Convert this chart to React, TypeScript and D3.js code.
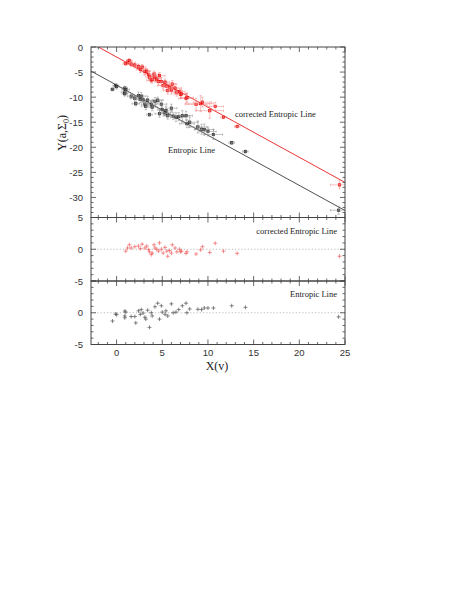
import React from "react";
import * as d3 from "d3";

// Residuals about each line: [X(v), residual]
const redX = [1.0, 1.2, 1.4, 1.6, 2.0, 2.4, 2.6, 2.8, 3.1, 3.3, 3.5, 3.6, 3.8, 3.9, 4.1, 4.2, 4.4, 4.6, 4.7, 4.9, 5.1, 5.3, 5.5, 5.6, 5.8, 6.0, 6.1, 6.4, 6.6, 6.9, 7.0, 7.1, 7.6, 7.7, 8.7, 9.2, 9.4, 10.2, 10.8, 11.7, 13.2, 24.4];
const redR = [-0.3, 0.2, 0.7, 0.2, 0.4, 0.5, 0.1, 0.8, 0.2, 0.5, -0.05, -0.4, -0.85, -0.6, 0.7, 0.2, 0.0, -0.3, 1.0, 0.0, -0.6, 0.3, -0.3, -1.1, -0.2, -0.6, 0.7, 0.2, -0.4, 0.0, -0.4, -0.3, -0.65, -0.4, -0.75, -0.1, 0.4, -0.5, 0.95, -0.3, -0.65, -1.1];
const redXErr = [0.3, 0.4, 0.3, 0.4, 0.4, 0.5, 0.4, 0.4, 0.5, 0.4, 0.5, 0.4, 0.5, 0.4, 0.5, 0.6, 0.5, 0.4, 0.6, 0.5, 0.6, 0.5, 0.6, 0.5, 0.6, 0.6, 0.5, 0.7, 0.6, 0.6, 0.7, 0.6, 0.8, 0.7, 1.2, 1.4, 1.0, 1.5, 0.9, 0.3, 0.3, 1.0];
const redYErr = [0.4, 0.5, 0.4, 0.5, 0.6, 0.5, 0.6, 0.5, 0.6, 0.5, 0.7, 0.6, 0.5, 0.7, 0.6, 0.8, 0.6, 0.7, 0.6, 0.8, 0.7, 0.6, 0.8, 0.7, 0.6, 0.8, 0.7, 0.9, 0.8, 0.7, 0.9, 0.8, 1.0, 0.9, 1.2, 1.6, 1.0, 1.5, 0.8, 0.3, 0.3, 0.8];

const blackX = [-0.45, -0.1, 0.0, 0.9, 0.9, 0.9, 1.0, 1.6, 2.0, 2.1, 2.4, 2.6, 2.7, 2.9, 3.1, 3.2, 3.4, 3.6, 3.8, 3.9, 4.2, 4.5, 4.7, 4.9, 5.0, 5.3, 5.4, 5.6, 6.0, 6.2, 6.5, 6.8, 7.2, 7.6, 7.7, 8.0, 8.9, 9.3, 9.6, 10.0, 10.6, 12.6, 14.1, 24.3];
const blackR = [-1.3, -0.2, -0.3, 0.27, -0.5, -0.8, 0.1, -0.6, -0.6, -1.6, 0.3, -0.25, 0.5, -0.05, -0.7, -1.0, 0.4, -2.3, 0.0, -0.5, 0.95, 1.5, -1.0, 1.1, 0.1, -0.25, 0.3, -0.5, 1.4, 0.0, 0.1, 0.5, 1.1, 1.5, 0.0, 0.6, 0.55, 0.5, 0.75, 0.75, 0.75, 1.1, 0.85, -0.65];
const blackXErr = [0.2, 0.3, 0.3, 0.3, 0.4, 0.3, 0.4, 0.4, 0.5, 0.4, 0.5, 0.4, 0.5, 0.5, 0.4, 0.5, 0.6, 0.3, 0.5, 0.6, 0.5, 0.6, 0.5, 0.6, 0.5, 0.6, 0.7, 0.5, 0.6, 0.7, 0.6, 0.7, 0.8, 0.7, 0.8, 0.9, 1.0, 0.8, 1.0, 0.9, 1.0, 0.3, 0.3, 0.9];
const blackYErr = [0.3, 0.4, 0.5, 0.4, 0.6, 0.5, 0.6, 0.5, 0.6, 0.4, 0.7, 0.6, 0.7, 0.5, 0.6, 0.7, 0.8, 0.3, 0.6, 0.7, 0.8, 0.6, 0.7, 0.8, 0.7, 0.6, 0.9, 0.7, 0.8, 0.7, 0.9, 0.8, 1.0, 0.9, 0.8, 1.0, 1.2, 1.0, 1.1, 0.9, 1.0, 0.3, 0.3, 0.8];

// Lines: Y = intercept + slope * X
const redLine = { intercept: -2.0, slope: -1.0 };
const blackLine = { intercept: -7.6, slope: -1.0 };

const xTicks = [0, 5, 10, 15, 20, 25];
const topYTicks = [0, -5, -10, -15, -20, -25, -30];
const midYTicks = [5, 0, -5];
const botYTicks = [0, -5];

const W = 458, H = 592;
const L = 91, R = 345;
const x = d3.scaleLinear().domain([-2.8, 25]).range([L, R]);
const yTop = d3.scaleLinear().domain([-34, 0]).range([217.5, 47]);
const yMid = d3.scaleLinear().domain([-5, 5]).range([281, 217.5]);
const yBot = d3.scaleLinear().domain([-5, 5]).range([344.5, 281]);

const RED = "#e80000";
const RED_ERR = "#f38080";
const BLK = "#222";
const BLK_ERR = "#888";
const FRAME = "#444";
const SANS = "'Liberation Sans', Arial, sans-serif";
const SERIF = "'Liberation Serif', 'Times New Roman', serif";

function Frame({ y, yTicks, showX }: { y: d3.ScaleLinear<number, number>; yTicks: number[]; showX: boolean }) {
  const [y0, y1] = y.domain();
  const top = y(y1), bot = y(y0);
  const minorX = d3.range(-2, 26, 1);
  const minorY = d3.range(Math.ceil(y0), Math.floor(y1) + 1, 1);
  const lines: JSX.Element[] = [];
  minorX.forEach((v) => {
    const len = v % 5 === 0 ? 5 : 2.5;
    lines.push(<line key={"bx" + v} x1={x(v)} x2={x(v)} y1={bot} y2={bot - len} />);
    lines.push(<line key={"tx" + v} x1={x(v)} x2={x(v)} y1={top} y2={top + len} />);
  });
  minorY.forEach((v) => {
    const len = v % 5 === 0 ? 5 : 2.5;
    lines.push(<line key={"ly" + v} x1={L} x2={L + len} y1={y(v)} y2={y(v)} />);
    lines.push(<line key={"ry" + v} x1={R} x2={R - len} y1={y(v)} y2={y(v)} />);
  });
  return (
    <g>
      <rect x={L} y={top} width={R - L} height={bot - top} fill="none" stroke={FRAME} strokeWidth={1} />
      <g stroke={FRAME} strokeWidth={0.8}>{lines}</g>
      <g fontFamily={SANS} fontSize={9.5} fill="#333" textAnchor="end">
        {yTicks.map((t) => (
          <text key={t} x={L - 8} y={y(t) + 3.5}>{t}</text>
        ))}
      </g>
      {showX && (
        <g fontFamily={SANS} fontSize={9.5} fill="#333" textAnchor="middle">
          {xTicks.map((t) => (
            <text key={t} x={x(t)} y={bot + 11}>{t}</text>
          ))}
        </g>
      )}
    </g>
  );
}

function TopPoints({ xs, rs, xe, ye, line, col, errCol }: any) {
  const s = 1.2;
  return (
    <g>
      {xs.map((xv: number, i: number) => {
        const yv = line.intercept + line.slope * xv + rs[i];
        const px = x(xv), py = yTop(yv);
        return (
          <g key={i}>
            <g stroke={errCol} strokeWidth={0.5}>
              <line x1={x(xv - xe[i])} x2={x(xv + xe[i])} y1={py} y2={py} />
              <line x1={px} x2={px} y1={yTop(yv - ye[i])} y2={yTop(yv + ye[i])} />
              <line x1={x(xv - xe[i])} x2={x(xv - xe[i])} y1={py - 1.2} y2={py + 1.2} />
              <line x1={x(xv + xe[i])} x2={x(xv + xe[i])} y1={py - 1.2} y2={py + 1.2} />
              <line x1={px - 1.2} x2={px + 1.2} y1={yTop(yv - ye[i])} y2={yTop(yv - ye[i])} />
              <line x1={px - 1.2} x2={px + 1.2} y1={yTop(yv + ye[i])} y2={yTop(yv + ye[i])} />
            </g>
            <rect x={px - s} y={py - s} width={2 * s} height={2 * s} fill="none" stroke={col} strokeWidth={0.6} />
            <path d={`M${px - s},${py - s}L${px + s},${py + s}M${px - s},${py + s}L${px + s},${py - s}`} stroke={col} strokeWidth={0.4} />
          </g>
        );
      })}
    </g>
  );
}

function Residuals({ xs, rs, y, col }: any) {
  return (
    <g stroke={col} strokeWidth={0.7}>
      {xs.map((xv: number, i: number) => {
        const px = x(xv), py = y(rs[i]);
        return (
          <g key={i}>
            <line x1={px - 2} x2={px + 2} y1={py} y2={py} />
            <line x1={px} x2={px} y1={py - 2} y2={py + 2} />
          </g>
        );
      })}
    </g>
  );
}

export default function App() {
  const lineFor = (ln: { intercept: number; slope: number }) => {
    const xa = -2.8, xb = 25;
    return { x1: x(xa), y1: yTop(ln.intercept + ln.slope * xa), x2: x(xb), y2: yTop(ln.intercept + ln.slope * xb) };
  };
  const rl = lineFor(redLine);
  const bl = lineFor(blackLine);
  return (
    <svg width={W} height={H} style={{ position: "absolute", left: 0, top: 0, background: "#fff" }}>
      <defs>
        <clipPath id="topclip">
          <rect x={L} y={47} width={R - L} height={170.5} />
        </clipPath>
      </defs>
      <g clipPath="url(#topclip)">
        <line {...rl} stroke={RED} strokeWidth={0.8} />
        <line {...bl} stroke={BLK} strokeWidth={0.8} />
        <TopPoints xs={blackX} rs={blackR} xe={blackXErr} ye={blackYErr} line={blackLine} col={BLK} errCol={BLK_ERR} />
        <TopPoints xs={redX} rs={redR} xe={redXErr} ye={redYErr} line={redLine} col={RED} errCol={RED_ERR} />
      </g>
      <line x1={L} x2={R} y1={yMid(0)} y2={yMid(0)} stroke="#aaa" strokeWidth={0.8} strokeDasharray="1.2,2" />
      <line x1={L} x2={R} y1={yBot(0)} y2={yBot(0)} stroke="#aaa" strokeWidth={0.8} strokeDasharray="1.2,2" />
      <Residuals xs={redX} rs={redR} y={yMid} col="#f06060" />
      <Residuals xs={blackX} rs={blackR} y={yBot} col="#555" />
      <Frame y={yTop} yTicks={topYTicks} showX={false} />
      <Frame y={yMid} yTicks={midYTicks} showX={false} />
      <Frame y={yBot} yTicks={botYTicks} showX={true} />
      <g fontFamily={SERIF} fontSize={8.5} fill="#222">
        <text x={235} y={117}>corrected Entropic Line</text>
        <text x={168} y={153}>Entropic Line</text>
        <text x={337} y={233.5} textAnchor="end">corrected Entropic Line</text>
        <text x={337} y={297} textAnchor="end">Entropic Line</text>
      </g>
      <text x={217} y={370} fontFamily={SERIF} fontSize={12} fill="#222" textAnchor="middle">X(v)</text>
      <text transform="translate(66,133) rotate(-90)" fontFamily={SERIF} fontSize={12} fill="#222" textAnchor="middle">
        Y(a,Σ<tspan fontSize={8} dy={3}>0</tspan><tspan dy={-3}>)</tspan>
      </text>
    </svg>
  );
}
